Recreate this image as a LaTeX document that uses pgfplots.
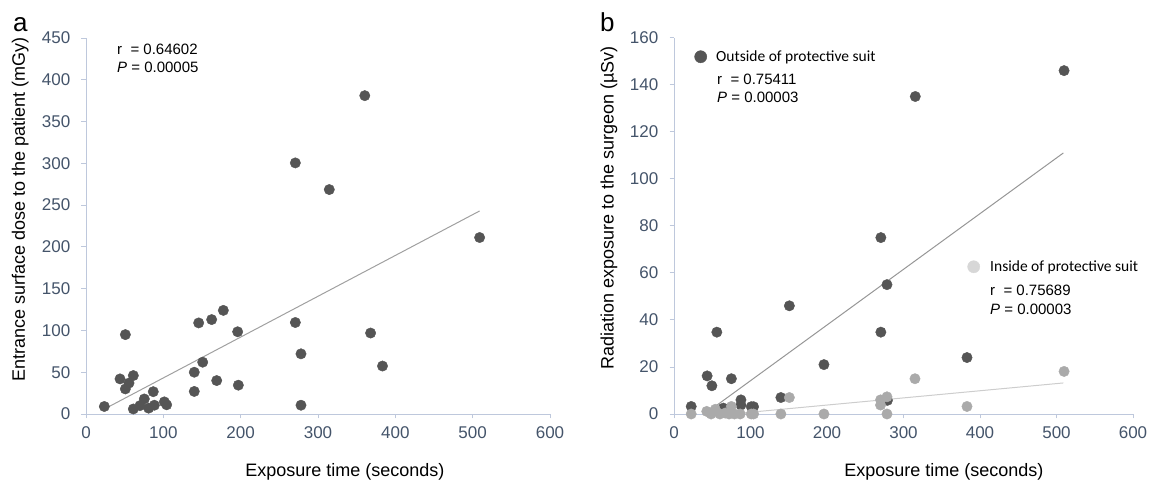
\documentclass[border=0pt]{standalone}
\usepackage{pgfplots}
\pgfplotsset{compat=1.18}
\usepackage{fontspec}
\setmainfont{Liberation Sans}
\newfontfamily\calibri{Carlito}
\definecolor{dk}{RGB}{85,85,85}
\definecolor{lt}{RGB}{170,170,170}
\definecolor{ltleg}{RGB}{215,215,215}
\definecolor{axc}{RGB}{190,200,220}
\definecolor{tkc}{RGB}{68,84,106}
\definecolor{trA}{RGB}{160,160,160}
\definecolor{trB}{RGB}{150,150,150}
\definecolor{trC}{RGB}{205,205,205}
\pgfplotsset{
 base/.style={
  scale only axis, clip=false,
  axis x line=bottom, axis y line=left,
  axis line style={-, draw=axc, line width=0.9pt},
  tick align=outside, major tick length=4.5pt,
  tick style={draw=axc, line width=0.9pt},
  xmin=0, xmax=600, xtick distance=100,
  /pgf/number format/assume math mode=true,
  ticklabel style={font=\fontsize{17}{19}\selectfont, text=tkc, inner sep=0pt},
  yticklabel style={anchor=east, xshift=-11pt},
  xticklabel style={anchor=north, yshift=-8pt},
  label style={font=\fontsize{18}{20}\selectfont, text=black},
 },
 dkpts/.style={only marks, mark=*, mark size=5.2pt, mark options={draw=dk, fill=dk}, forget plot},
 ltpts/.style={only marks, mark=*, mark size=5.2pt, mark options={draw=lt, fill=lt}, forget plot},
}
\begin{document}
\begin{tikzpicture}[x=1pt,y=1pt]
\path[use as bounding box] (0,0) rectangle (1149,484);
% ---------------- panel a
\begin{axis}[base, at={(86pt,70pt)}, anchor=south west, width=464pt, height=376pt,
  ymin=0, ymax=450, ytick distance=50,
  xlabel={Exposure time (seconds)},
  ylabel={Entrance surface dose to the patient (mGy)},
  xlabel style={at={(axis description cs:0.558,-0.154)}, anchor=center},
  ylabel style={at={(axis description cs:-0.142,0.543)}, anchor=center}]
\addplot[trA, line width=1pt, forget plot] coordinates {(28,8) (509,243)};
\addplot[dkpts] coordinates {
(23.7,9) (50.9,95) (44,42) (50.9,30) (55.6,37) (61.2,46) (61.2,6) (69.8,10)
(75.4,18) (81,7) (87,26.7) (88.4,10.5) (101.3,14.5) (104.3,11) (140,50) (140,27)
(145.7,109) (150.9,62) (162.5,113) (169,40) (177.6,124) (196.1,98.4) (197,34.5)
(270.7,300.5) (270.7,109.5) (278,72) (278,10.5) (314.6,268.6) (360.5,381)
(368,96.9) (383.4,57.4) (509,211.2)};
\end{axis}
% ---------------- panel b
\begin{axis}[base, at={(674pt,70pt)}, anchor=south west, width=459pt, height=376.3pt,
  ymin=0, ymax=160, ytick distance=20,
  xlabel={Exposure time (seconds)},
  ylabel={Radiation exposure to the surgeon (\textmu Sv)},
  xlabel style={at={(axis description cs:0.588,-0.154)}, anchor=center},
  ylabel style={at={(axis description cs:-0.1416,0.548)}, anchor=center}]
\addplot[trB, line width=1pt, forget plot] coordinates {(40.2,0) (509,111)};
\addplot[trC, line width=1pt, forget plot] coordinates {(75,0) (509,13.2)};
\addplot[dkpts] coordinates {
(22.5,3.2) (43.3,16.2) (49.5,12) (56,34.8) (64.5,2.5) (75,15) (87.5,6) (87.5,3.8)
(101,3.1) (104,3.1) (139.7,7) (150.8,46) (196,21) (270.4,75) (270.4,34.8)
(278.4,55) (279,5.8) (315.4,135) (383,24) (509.9,146)};
\addplot[ltpts] coordinates {
(22.5,0) (42.8,1.1) (48.5,0) (54,2) (60,0) (67,0.4) (72,0) (75,3.2) (79,0)
(86.5,0) (101,0) (104,0) (139.7,0) (150.8,7) (196,0) (270,6) (270,3.8)
(278.4,7.3) (278.4,0) (315,15) (383,3.2) (509.9,18.1)};
% legend markers
\addplot[only marks, mark=*, mark size=6.1pt, mark options={draw=dk, fill=dk}, forget plot] coordinates {(34.9,151.9)};
\addplot[only marks, mark=*, mark size=6.1pt, mark options={draw=ltleg, fill=ltleg}, forget plot] coordinates {(391.8,62.6)};
\end{axis}
% ---------------- texts
\node[anchor=base west, inner sep=0, font=\fontsize{26}{28}\selectfont] at (13,452) {a};
\node[anchor=base west, inner sep=0, font=\fontsize{26}{28}\selectfont] at (600,452) {b};
\node[anchor=base west, inner sep=0, font=\fontsize{15}{17}\selectfont] at (117,429.6) {r\ \ = 0.64602};
\node[anchor=base west, inner sep=0, font=\fontsize{15}{17}\selectfont] at (117,411.6) {\textit{P} = 0.00005};
\node[anchor=base west, inner sep=0, font=\calibri\fontsize{15.5}{17}\selectfont] at (716,422) {Outside of protective suit};
\node[anchor=base west, inner sep=0, font=\fontsize{15}{17}\selectfont] at (717,399.6) {r\ \ = 0.75411};
\node[anchor=base west, inner sep=0, font=\fontsize{15}{17}\selectfont] at (717,381.6) {\textit{P} = 0.00003};
\node[anchor=base west, inner sep=0, font=\calibri\fontsize{15.5}{17}\selectfont] at (990,212) {Inside of protective suit};
\node[anchor=base west, inner sep=0, font=\fontsize{15}{17}\selectfont] at (990,188) {r\ \ = 0.75689};
\node[anchor=base west, inner sep=0, font=\fontsize{15}{17}\selectfont] at (990,169.6) {\textit{P} = 0.00003};
\end{tikzpicture}
\end{document}
